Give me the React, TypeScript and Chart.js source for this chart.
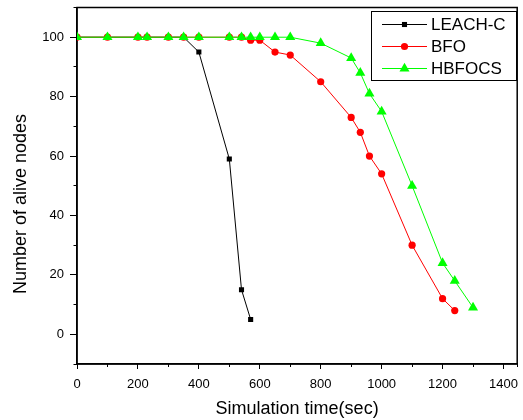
import React, { useEffect, useRef } from 'react';
import { Chart, registerables } from 'chart.js';
import { drawPoint } from 'chart.js/helpers';

Chart.register(...registerables);

const LEACH_X = [0, 100, 200, 230, 300, 350, 400, 500, 540, 570];
const LEACH_Y = [100, 100, 100, 100, 100, 100, 95, 59, 15, 5];

const BFO_X = [0, 100, 200, 230, 300, 350, 400, 500, 540, 570, 600, 650, 700, 800, 900, 930, 960, 1000, 1100, 1200, 1240];
const BFO_Y = [100, 100, 100, 100, 100, 100, 100, 100, 100, 99, 99, 95, 94, 85, 73, 68, 60, 54, 30, 12, 8];

const HBFOCS_X = [0, 100, 200, 230, 300, 350, 400, 500, 540, 570, 600, 650, 700, 800, 900, 930, 960, 1000, 1100, 1200, 1240, 1300];
const HBFOCS_Y = [100, 100, 100, 100, 100, 100, 100, 100, 100, 100, 100, 100, 100, 98, 93, 88, 81, 75, 50, 24, 18, 9];

const SERIES_LABELS = ['LEACH-C', 'BFO', 'HBFOCS'];
const X_TITLE = 'Simulation time(sec)';
const Y_TITLE = 'Number of alive nodes';

const FONT = '"Liberation Sans", Arial, Helvetica, sans-serif';

const toPoints = (xs: number[], ys: number[]) => xs.map((x, i) => ({ x, y: ys[i] }));

export default function App() {
  const ref = useRef<HTMLCanvasElement>(null);

  useEffect(() => {
    if (!ref.current) return;

    const framePlugin = {
      id: 'frame',
      beforeDatasetsDraw(chart: any) {
        const { ctx, chartArea } = chart;
        const { left, top, right, bottom } = chartArea;
        ctx.save();
        ctx.strokeStyle = '#000';
        ctx.lineWidth = 1.5;
        ctx.strokeRect(left, top, right - left, bottom - top);
        ctx.restore();
      },
    };

    const yTitlePlugin = {
      id: 'yTitle',
      afterDraw(chart: any) {
        const ctx = chart.ctx;
        ctx.save();
        ctx.translate(21.5, 204);
        ctx.rotate(-Math.PI / 2);
        ctx.textAlign = 'center';
        ctx.textBaseline = 'middle';
        ctx.fillStyle = '#000';
        ctx.font = `18px ${FONT}`;
        ctx.fillText(Y_TITLE, 0, 0);
        ctx.restore();
      },
    };

    const legendPlugin = {
      id: 'boxLegend',
      afterDraw(chart: any) {
        const ctx = chart.ctx;
        ctx.save();
        ctx.fillStyle = '#fff';
        ctx.fillRect(371.5, 11.5, 145, 69);
        ctx.strokeStyle = '#000';
        ctx.lineWidth = 1;
        ctx.strokeRect(371.5, 11.5, 145, 69);
        chart.data.datasets.forEach((ds: any, i: number) => {
          const y = 24.5 + i * 22;
          ctx.strokeStyle = ds.borderColor;
          ctx.lineWidth = 1;
          ctx.beginPath();
          ctx.moveTo(382, y);
          ctx.lineTo(427, y);
          ctx.stroke();
          ctx.fillStyle = ds.pointBackgroundColor;
          ctx.strokeStyle = ds.pointBackgroundColor;
          drawPoint(ctx, { pointStyle: ds.pointStyle, radius: ds.pointRadius, borderWidth: 0, rotation: 0 } as any, 404.5, y);
          ctx.fillStyle = '#000';
          ctx.font = `17px ${FONT}`;
          ctx.textAlign = 'left';
          ctx.textBaseline = 'middle';
          ctx.fillText(ds.label, 431, y + 1);
        });
        ctx.restore();
      },
    };

    const majorTick = (step: number) => (c: any) =>
      c.tick && Math.abs(c.tick.value % step) < 1e-6 ? '#000' : 'rgba(0,0,0,0)';

    const chart = new Chart(ref.current, {
      type: 'line',
      data: {
        datasets: [
          {
            label: SERIES_LABELS[0],
            data: toPoints(LEACH_X, LEACH_Y),
            borderColor: '#000000',
            pointBackgroundColor: '#000000',
            pointStyle: 'rect',
            pointRadius: 3.6,
            pointBorderWidth: 0,
            borderWidth: 1,
            order: 3,
          },
          {
            label: SERIES_LABELS[1],
            data: toPoints(BFO_X, BFO_Y),
            borderColor: '#ff0000',
            pointBackgroundColor: '#ff0000',
            pointStyle: 'circle',
            pointRadius: 3.6,
            pointBorderWidth: 0,
            borderWidth: 1,
            order: 2,
          },
          {
            label: SERIES_LABELS[2],
            data: toPoints(HBFOCS_X, HBFOCS_Y),
            borderColor: '#00ff00',
            pointBackgroundColor: '#00ff00',
            pointStyle: 'triangle',
            pointRadius: 5.8,
            pointBorderWidth: 0,
            borderWidth: 1,
            order: 1,
          },
        ] as any,
      },
      options: {
        animation: false,
        responsive: false,
        maintainAspectRatio: false,
        layout: { padding: { left: 0, right: 4, top: 7.5, bottom: 0 } },
        plugins: {
          legend: { display: false },
          tooltip: { enabled: false },
        },
        scales: {
          x: {
            type: 'linear',
            position: 'bottom',
            weight: 1,
            min: 0,
            max: 1445,
            bounds: 'data',
            ticks: {
              stepSize: 100,
              includeBounds: false,
              autoSkip: false,
              maxRotation: 0,
              padding: 8,
              color: '#000',
              font: { family: FONT, size: 13 },
              callback: (v: any) => (Math.abs(Number(v) % 200) < 1e-6 ? String(v) : ''),
            },
            grid: {
              drawOnChartArea: false,
              drawTicks: true,
              tickLength: 5,
              tickWidth: 1,
              tickColor: majorTick(200),
            },
            border: { display: true, color: '#000', width: 1.5 },
            title: {
              display: true,
              text: X_TITLE,
              color: '#000',
              font: { family: FONT, size: 18 },
              padding: { top: 0, bottom: 0 },
            },
            afterFit: (s: any) => {
              s.height = 56;
              s.paddingLeft = 0;
              s.paddingRight = 0;
            },
          },
          xMinor: {
            type: 'linear',
            position: 'bottom',
            weight: 0,
            min: 0,
            max: 1445,
            bounds: 'data',
            ticks: { display: false, stepSize: 100, includeBounds: false, autoSkip: false },
            grid: { drawOnChartArea: false, drawTicks: true, tickLength: 3, tickWidth: 1, tickColor: '#000' },
            border: { display: false },
            afterFit: (s: any) => {
              s.height = 0;
              s.paddingLeft = 0;
              s.paddingRight = 0;
            },
          },
          y: {
            type: 'linear',
            position: 'left',
            weight: 1,
            min: -10,
            max: 110,
            bounds: 'data',
            ticks: {
              stepSize: 10,
              autoSkip: false,
              padding: 6,
              color: '#000',
              font: { family: FONT, size: 13 },
              callback: (v: any) => (Math.abs(Number(v) % 20) < 1e-6 ? String(v) : ''),
            },
            grid: {
              drawOnChartArea: false,
              drawTicks: true,
              tickLength: 7,
              tickWidth: 1,
              tickColor: majorTick(20),
            },
            border: { display: true, color: '#000', width: 1.5 },
            title: { display: false },
            afterFit: (s: any) => {
              s.width = 77;
              s.paddingTop = 0;
              s.paddingBottom = 0;
            },
          },
          yMinor: {
            type: 'linear',
            position: 'left',
            weight: 0,
            min: -10,
            max: 110,
            bounds: 'data',
            ticks: { display: false, stepSize: 10, autoSkip: false },
            grid: { drawOnChartArea: false, drawTicks: true, tickLength: 3.5, tickWidth: 1, tickColor: '#000' },
            border: { display: false },
            afterFit: (s: any) => {
              s.width = 0;
              s.paddingTop = 0;
              s.paddingBottom = 0;
            },
          },
        } as any,
      },
      plugins: [framePlugin, yTitlePlugin, legendPlugin],
    });

    return () => {
      chart.destroy();
    };
  }, []);

  return (
    <div style={{ position: 'absolute', left: 0, top: 0, width: 523, height: 420, background: '#fff' }}>
      <canvas ref={ref} width={523} height={420} style={{ display: 'block', width: 523, height: 420 }} />
    </div>
  );
}
